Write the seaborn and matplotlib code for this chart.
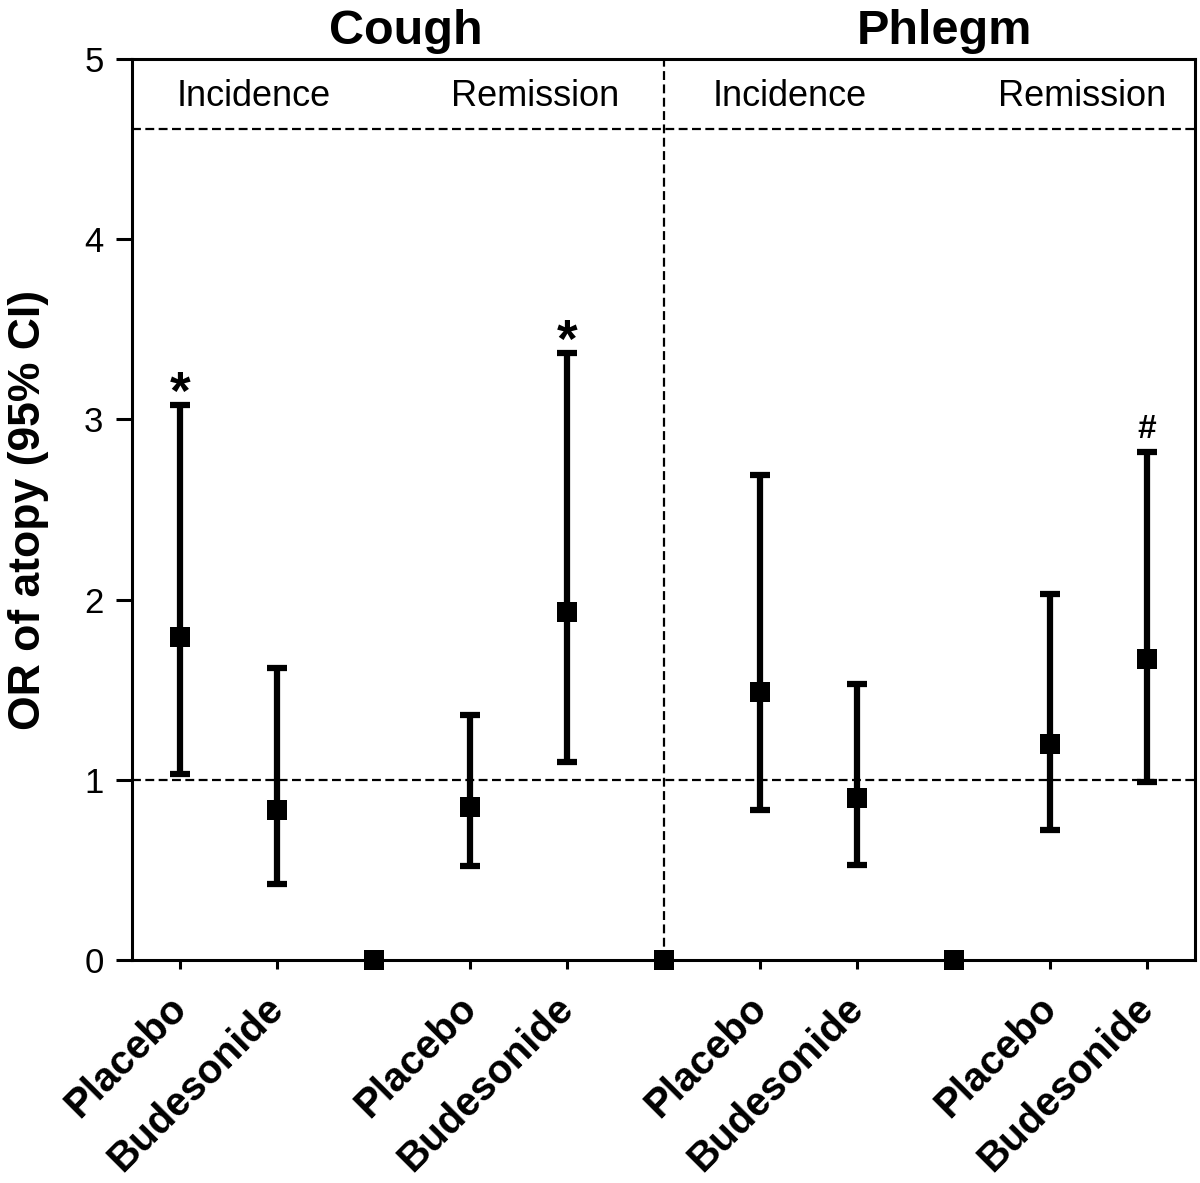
import matplotlib
matplotlib.use("Agg")
import matplotlib.pyplot as plt
import seaborn as sns

# values (odds ratio of atopy with 95% CI)
positions = [1, 2, 4, 5, 7, 8, 10, 11]
treatment = ["Placebo", "Budesonide"] * 4
or_vals = [1.79, 0.83, 0.85, 1.93, 1.49, 0.90, 1.20, 1.67]
ci_low = [1.03, 0.42, 0.52, 1.10, 0.83, 0.53, 0.72, 0.99]
ci_high = [3.08, 1.62, 1.36, 3.37, 2.69, 1.53, 2.03, 2.82]
gap_positions = [3, 6, 9]
gap_vals = [0, 0, 0]

# significance marks: (index into series, symbol)
marks = [(0, "*"), (3, "*"), (7, "#")]

outcomes = ["Cough", "Phlegm"]
outcome_x = [3.33, 8.91]
phases = ["Incidence", "Remission", "Incidence", "Remission"]
phase_x = [1.76, 4.67, 7.3, 10.33]

sns.set_style("ticks")
plt.rcParams["font.family"] = ["Liberation Sans", "DejaVu Sans"]
plt.rcParams.update({"text.color": "black", "axes.labelcolor": "black",
                     "xtick.color": "black", "ytick.color": "black"})

fig = plt.figure(figsize=(12, 11.83), dpi=100)
ax = fig.add_axes([0.11, 0.1885, 0.886, 0.7616])

yerr = [[o - l for o, l in zip(or_vals, ci_low)],
        [h - o for o, h in zip(or_vals, ci_high)]]
ax.errorbar(positions, or_vals, yerr=yerr, fmt="none", ecolor="black",
            elinewidth=4.5, capsize=7.5, capthick=4.5, zorder=3)
sns.scatterplot(x=positions, y=or_vals, marker="s", s=15 ** 2, color="black",
                linewidth=0, zorder=4, ax=ax, legend=False)
sns.scatterplot(x=gap_positions, y=gap_vals, marker="s", s=15 ** 2, color="black",
                linewidth=0, zorder=4, ax=ax, legend=False)
ax.collections[-1].set_clip_on(False)

# reference lines
ax.axhline(1, color="black", lw=1.6, dashes=(4, 2), zorder=1)
ax.axhline(4.61, color="black", lw=1.6, dashes=(4, 2), zorder=1)
ax.axvline(6, color="black", lw=1.6, dashes=(4, 2), zorder=1)

for i, sym in marks:
    if sym == "*":
        fs, off = 38, -3
    else:
        fs, off = 24, 10
    ax.annotate(sym, xy=(positions[i], ci_high[i]), xytext=(0, off),
                textcoords="offset points", ha="center", va="baseline",
                fontsize=fs, fontweight="bold")

for x, t in zip(phase_x, phases):
    ax.text(x, 4.79, t, ha="center", va="center", fontsize=26)
for x, t in zip(outcome_x, outcomes):
    ax.text(x, 5.083, t, ha="center", va="baseline", fontsize=35, fontweight="bold")

ax.set_xlim(0.5, 11.5)
ax.set_ylim(0, 5)
ax.set_yticks(range(6))
ax.set_xticks(positions, labels=treatment)
ax.tick_params(axis="y", length=11.5, width=2.2, pad=9, labelsize=25, colors="black")
ax.tick_params(axis="x", length=6.5, width=2.2, pad=24, labelsize=29, colors="black")
for lbl in ax.get_xticklabels():
    lbl.set_rotation(45)
    lbl.set_ha("right")
    lbl.set_va("center")
    lbl.set_rotation_mode("anchor")
    lbl.set_fontweight("bold")
ax.set_ylabel("OR of atopy (95% CI)", fontsize=32, fontweight="bold", labelpad=25)

for sp in ax.spines.values():
    sp.set_linewidth(2.2)
    sp.set_color("black")

fig.savefig("out.png", dpi=100)
